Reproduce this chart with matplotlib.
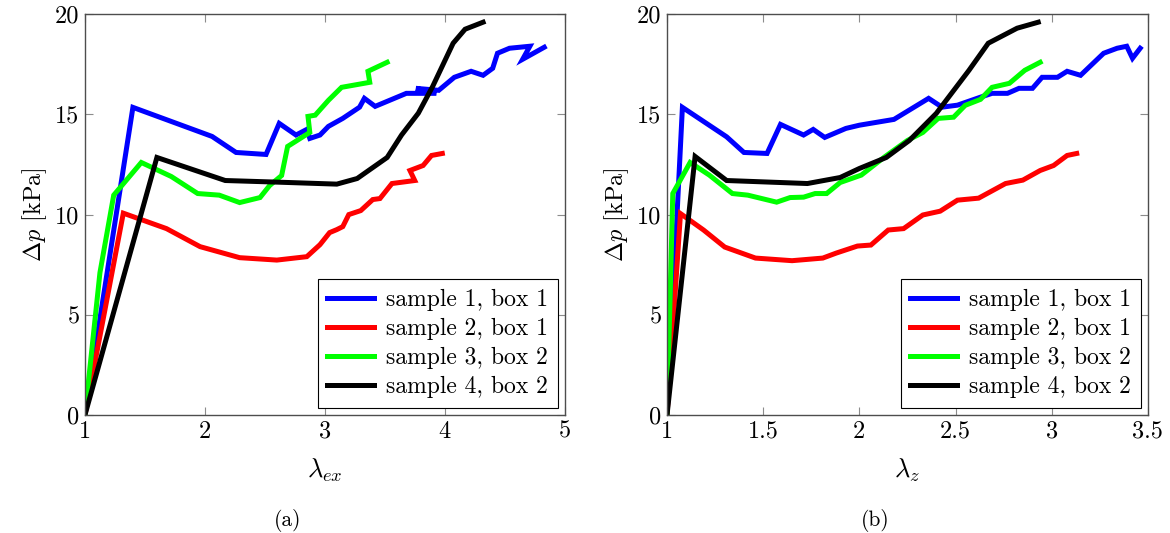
import matplotlib.pyplot as plt

plt.rcParams['font.family'] = 'serif'
plt.rcParams['font.serif'] = ['cmr10']
plt.rcParams['mathtext.fontset'] = 'cm'
plt.rcParams['axes.unicode_minus'] = False
plt.rcParams['axes.formatter.use_mathtext'] = True

labels = ["sample 1, box 1", "sample 2, box 1", "sample 3, box 2", "sample 4, box 2"]
colors = ["#0000ff", "#ff0000", "#00ff00", "#000000"]

# (a) pressure vs lambda_ex
ex1_x = [1.0, 1.40, 2.06, 2.26, 2.51, 2.62, 2.76, 2.85, 2.875, 2.96, 3.03, 3.15, 3.29, 3.33, 3.42,
         3.68, 3.93, 3.76, 3.95, 4.08, 4.22, 4.32, 4.40, 4.44, 4.54, 4.71, 4.65, 4.83]
ex1_y = [0.0, 15.35, 13.9, 13.1, 13.0, 14.55, 13.97, 14.25, 13.8, 13.97, 14.4, 14.8, 15.36, 15.8, 15.4,
         16.05, 16.05, 16.3, 16.2, 16.85, 17.15, 16.95, 17.3, 18.05, 18.3, 18.4, 17.75, 18.35]
ex2_x = [1.0, 1.32, 1.68, 1.96, 2.29, 2.60, 2.85, 2.96, 3.04, 3.10, 3.15, 3.20, 3.30, 3.40, 3.46,
         3.56, 3.75, 3.71, 3.82, 3.89, 3.98]
ex2_y = [0.0, 10.07, 9.3, 8.4, 7.85, 7.73, 7.9, 8.5, 9.1, 9.25, 9.4, 10.0, 10.2, 10.75, 10.8,
         11.55, 11.7, 12.2, 12.45, 12.95, 13.05]
ex3_x = [1.0, 1.125, 1.24, 1.47, 1.72, 1.94, 2.12, 2.29, 2.46, 2.54, 2.64, 2.69, 2.875, 2.86, 2.92,
         3.03, 3.14, 3.375, 3.36, 3.52]
ex3_y = [0.0, 7.1, 10.97, 12.6, 11.9, 11.05, 10.97, 10.6, 10.85, 11.45, 11.95, 13.4, 14.1, 14.9, 14.96,
         15.7, 16.35, 16.6, 17.15, 17.6]
ex4_x = [1.0, 1.60, 2.17, 2.60, 3.10, 3.27, 3.52, 3.64, 3.78, 3.90, 4.07, 4.17, 4.32]
ex4_y = [0.0, 12.85, 11.7, 11.62, 11.52, 11.8, 12.85, 13.97, 15.06, 16.4, 18.55, 19.25, 19.6]

# (b) pressure vs lambda_z
z1_x = [1.0, 1.08, 1.31, 1.40, 1.52, 1.59, 1.71, 1.76, 1.82, 1.93, 2.0, 2.18, 2.36, 2.43, 2.51,
        2.63, 2.69, 2.77, 2.83, 2.90, 2.95, 3.03, 3.08, 3.15, 3.27, 3.34, 3.39, 3.42, 3.46]
z1_y = [0.0, 15.35, 13.88, 13.1, 13.05, 14.5, 13.97, 14.25, 13.85, 14.3, 14.46, 14.75, 15.8, 15.36, 15.46,
        15.86, 16.05, 16.05, 16.3, 16.3, 16.85, 16.85, 17.15, 16.95, 18.05, 18.3, 18.4, 17.8, 18.3]
z2_x = [1.0, 1.07, 1.19, 1.30, 1.46, 1.65, 1.81, 1.88, 1.99, 2.06, 2.15, 2.23, 2.33, 2.42, 2.51,
        2.62, 2.76, 2.85, 2.94, 3.01, 3.08, 3.13]
z2_y = [0.0, 10.05, 9.23, 8.38, 7.83, 7.7, 7.83, 8.08, 8.43, 8.48, 9.23, 9.3, 9.98, 10.17, 10.72,
        10.82, 11.55, 11.72, 12.2, 12.45, 12.95, 13.05]
z3_x = [1.0, 1.03, 1.12, 1.22, 1.34, 1.42, 1.57, 1.64, 1.71, 1.77, 1.83, 1.90, 2.01, 2.13, 2.25,
        2.33, 2.41, 2.49, 2.55, 2.63, 2.69, 2.78, 2.86, 2.94]
z3_y = [0.0, 11.05, 12.6, 11.97, 11.05, 10.97, 10.62, 10.85, 10.87, 11.05, 11.05, 11.6, 11.97, 12.87, 13.7,
        14.1, 14.8, 14.86, 15.45, 15.75, 16.35, 16.55, 17.2, 17.6]
z4_x = [1.0, 1.146, 1.31, 1.73, 1.90, 2.0, 2.14, 2.26, 2.40, 2.57, 2.67, 2.82, 2.93]
z4_y = [0.0, 12.9, 11.7, 11.55, 11.85, 12.3, 12.85, 13.7, 15.05, 17.2, 18.55, 19.3, 19.6]

fig = plt.figure(figsize=(11.7, 5.33), dpi=100)
ax1 = fig.add_axes([0.0726, 0.2214, 0.410, 0.752])
ax2 = fig.add_axes([0.5701, 0.2214, 0.411, 0.752])

panels = [
    (ax1, [(ex1_x, ex1_y), (ex2_x, ex2_y), (ex3_x, ex3_y), (ex4_x, ex4_y)],
     (1, 5), [1, 2, 3, 4, 5], ['1', '2', '3', '4', '5'], r'$\lambda_{ex}$'),
    (ax2, [(z1_x, z1_y), (z2_x, z2_y), (z3_x, z3_y), (z4_x, z4_y)],
     (1, 3.5), [1, 1.5, 2, 2.5, 3, 3.5], ['1', '1.5', '2', '2.5', '3', '3.5'], r'$\lambda_z$'),
]

for ax, series, xlim, xt, xtl, xlab in panels:
    for (x, y), c, lab in zip(series, colors, labels):
        ax.plot(x, y, color=c, lw=3.6, label=lab, solid_joinstyle='miter')
    ax.set_xlim(*xlim)
    ax.set_ylim(0, 20)
    ax.set_xticks(xt)
    ax.set_xticklabels(xtl)
    ax.set_yticks([0, 5, 10, 15, 20])
    ax.set_yticklabels(['0', '5', '10', '15', '20'])
    ax.tick_params(direction='in', top=True, right=True, length=6, width=0.8,
                   color='0.55', labelsize=17.5, pad=4)
    for s in ax.spines.values():
        s.set_color('0.3')
        s.set_linewidth(1.0)
    ax.set_xlabel(xlab, fontsize=19, labelpad=10)
    ax.set_ylabel(r'$\Delta p$ [kPa]', fontsize=17.5, labelpad=4)
    leg = ax.legend(loc='lower right', fontsize=17, frameon=True, fancybox=False,
                    edgecolor='black', framealpha=1, handlelength=2.0,
                    borderaxespad=0.3, labelspacing=0.3, borderpad=0.4,
                    handletextpad=0.5)
    leg.get_frame().set_linewidth(0.8)

fig.text(288 / 1170, 1 - 520 / 533, '(a)', ha='center', va='center', fontsize=15.5)
fig.text(875 / 1170, 1 - 520 / 533, '(b)', ha='center', va='center', fontsize=15.5)

fig.savefig('out.png', dpi=100)
